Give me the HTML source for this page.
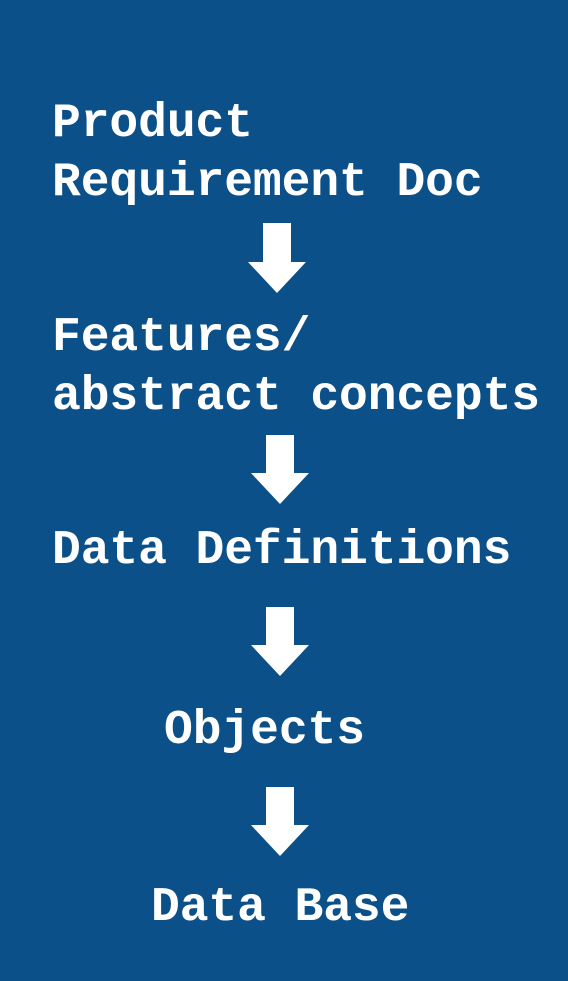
<!DOCTYPE html>
<html><head><style>
html,body{margin:0;padding:0}
body{width:568px;height:981px;background:#0b5088;position:relative;overflow:hidden}
.t{position:absolute;color:#fff;font-family:"Liberation Mono","DejaVu Sans Mono",monospace;font-weight:bold;font-size:48px;line-height:48px;white-space:pre;letter-spacing:-0.1px}
svg{position:absolute;left:0;top:0}
</style></head><body>
<div class="t" style="left:52px;top:100px">Product</div>
<div class="t" style="left:52px;top:159px">Requirement Doc</div>
<div class="t" style="left:52px;top:314px">Features/</div>
<div class="t" style="left:52px;top:373px">abstract concepts</div>
<div class="t" style="left:52px;top:527px">Data Definitions</div>
<div class="t" style="left:164px;top:707px">Objects</div>
<div class="t" style="left:151px;top:884px">Data Base</div>
<svg width="568" height="981">
<g fill="#fff">
<polygon points="263,223 291,223 291,262 306,262 277,293 248,262 263,262"/>
<polygon points="266,435 294,435 294,473 309,473 280,504 251,473 266,473"/>
<polygon points="266,607 294,607 294,645 309,645 280,676 251,645 266,645"/>
<polygon points="266,787 294,787 294,825 309,825 280,856 251,825 266,825"/>
</g>
</svg>
</body></html>
